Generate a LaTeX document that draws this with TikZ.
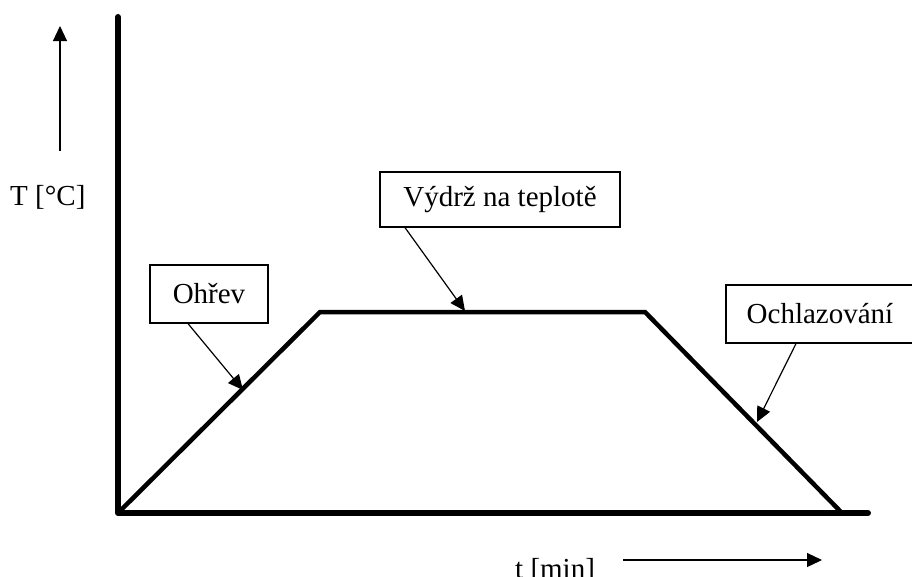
\documentclass[tikz,border=0pt]{standalone}
\usepackage{fontspec}
\setmainfont{Liberation Serif}
\usetikzlibrary{arrows.meta}
\begin{document}
\begin{tikzpicture}[x=1pt,y=-1pt,
  axisline/.style={line width=6pt,line cap=round,line join=round},
  curve/.style={line width=4.5pt,line join=miter},
  labelbox/.style={draw,line width=1.2pt,inner sep=0pt,font=\fontsize{29}{34}\selectfont},
  callout/.style={line width=1.2pt,-{Triangle[length=15pt,width=14pt]}},
  lbl/.style={inner sep=0pt,anchor=base west,font=\fontsize{29}{34}\selectfont}]
\useasboundingbox (0,0) rectangle (912,576);
% axes
\coordinate (top) at (118,17);
\coordinate (origin) at (118,513);
\coordinate (right) at (868,513);
\draw[axisline] (top) -- (origin) -- (right);
% temperature profile
\coordinate (p1) at (320,312);
\coordinate (p2) at (645,312);
\coordinate (p3) at (842,513);
\draw[curve] (origin) -- (p1) -- (p2) -- (p3);
% axis labels and arrows
\node[lbl] (tlab) at (10,205) {T [°C]};
\node[lbl] (tmin) at (515,578) {t [min]};
\coordinate (va1) at (60,151);
\coordinate (va2) at (60,26);
\draw[callout] (va1) -- (va2);
\coordinate (ha1) at (623,560);
\coordinate (ha2) at (822,560);
\draw[callout] (ha1) -- (ha2);
% boxes
\node[labelbox,minimum width=118pt,minimum height=58pt] (ohrev) at (209,294) {Ohřev};
\node[labelbox,minimum width=240pt,minimum height=55pt] (vydrz) at (500,199.5) {Výdrž na teplotě};
\node[labelbox,minimum width=188pt,minimum height=58pt] (ochl) at (820,314) {Ochlazování};
% callouts
\coordinate (tipA) at (243,390);
\coordinate (tipB) at (465,311);
\coordinate (tipC) at (757,422);
\draw[callout] (188,0 |- ohrev.south) -- (tipA);
\draw[callout] (405,0 |- vydrz.south) -- (tipB);
\draw[callout] (796,0 |- ochl.south) -- (tipC);
\end{tikzpicture}
\end{document}
